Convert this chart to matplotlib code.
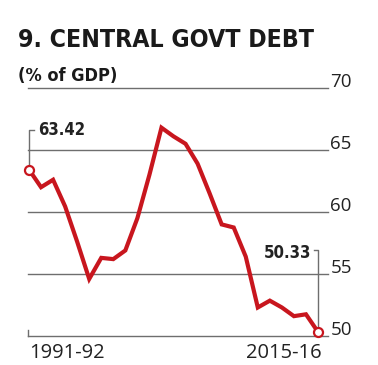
import numpy as np
import matplotlib.pyplot as plt

# Central govt debt, % of GDP, 1991-92 .. 2015-16
years = ["1991-92", "1992-93", "1993-94", "1994-95", "1995-96", "1996-97",
         "1997-98", "1998-99", "1999-00", "2000-01", "2001-02", "2002-03",
         "2003-04", "2004-05", "2005-06", "2006-07", "2007-08", "2008-09",
         "2009-10", "2010-11", "2011-12", "2012-13", "2013-14", "2014-15",
         "2015-16"]
debt = [63.42, 62.0, 62.6, 60.45, 57.6, 54.6, 56.3, 56.2, 56.9, 59.5,
        63.0, 66.8, 66.1, 65.5, 63.9, 61.5, 59.0, 58.75, 56.4, 52.3,
        52.85, 52.3, 51.6, 51.75, 50.33]
yticks = [50, 55, 60, 65, 70]
xlabels = ["1991-92", "2015-16"]

RED = "#c8161e"
GRAY = "#6e6e6e"
W, H = 378, 365

fig = plt.figure(figsize=(W / 100, H / 100), dpi=100)
ax = fig.add_axes([28 / W, (H - 336) / H, 300 / W, 248 / H])
x = np.arange(len(debt))
ax.set_xlim(-0.083, 24.83)
ax.set_ylim(50, 70)
ax.axis("off")

# gridlines
for v in yticks:
    ax.axhline(v, color=GRAY, lw=1.0, clip_on=False, zorder=1)
    ax.text(1.008, v + 0.1, str(v), transform=ax.get_yaxis_transform(),
            ha="left", va="baseline", fontsize=13.5, family="Open Sans",
            color="#222222")
ax.plot([-0.083, -0.083], [50, 50.45], color=GRAY, lw=1.0, clip_on=False)

# series
ax.plot(x, debt, color=RED, lw=3.0, solid_joinstyle="miter", zorder=3,
        clip_on=False)
ax.plot([x[0], x[-1]], [debt[0], debt[-1]], "o", ms=6.5, mfc="white",
        mec=RED, mew=1.6, zorder=4, clip_on=False)

# first value callout
ax.plot([0, 0, 0.45], [debt[0] + 0.35, 66.6, 66.6], color=GRAY, lw=1.0,
        zorder=2, clip_on=False)
ax.text(0.75, 66.6, f"{debt[0]:.2f}", ha="left", va="center", fontsize=12,
        fontweight="bold", family="DejaVu Sans", stretch="condensed",
        color="#222222")

# last value callout
ax.plot([24, 24, 23.65], [debt[-1] + 0.35, 56.9, 56.9], color=GRAY, lw=1.0,
        zorder=2, clip_on=False)
ax.text(23.4, 56.7, f"{debt[-1]:.2f}", ha="right", va="center", fontsize=12,
        fontweight="bold", family="DejaVu Sans", stretch="condensed",
        color="#222222")

# x labels
ax.text(0, -0.028, xlabels[0], transform=ax.get_xaxis_transform(),
        ha="left", va="top", fontsize=14.5, family="Open Sans", color="#222222")
ax.text(24.3, -0.028, xlabels[1], transform=ax.get_xaxis_transform(),
        ha="right", va="top", fontsize=14.5, family="Open Sans", color="#222222")

# titles
title = fig.text(18 / W, 1 - 47 / H, "9. CENTRAL GOVT DEBT", ha="left",
                 va="baseline", fontsize=25, fontweight="bold",
                 family="DejaVu Sans", stretch="condensed", color="#1a1a1a")
# shrink the title until it spans the reference width (~297 px)
fig.canvas.draw()
bb = title.get_window_extent()
title.set_fontsize(25 * 297 / bb.width)

fig.text(18 / W, 1 - 81 / H, "(% of GDP)", ha="left", va="baseline",
         fontsize=13, fontweight="bold", family="DejaVu Sans",
         stretch="condensed", color="#1a1a1a")

fig.savefig("out.png", dpi=100)
